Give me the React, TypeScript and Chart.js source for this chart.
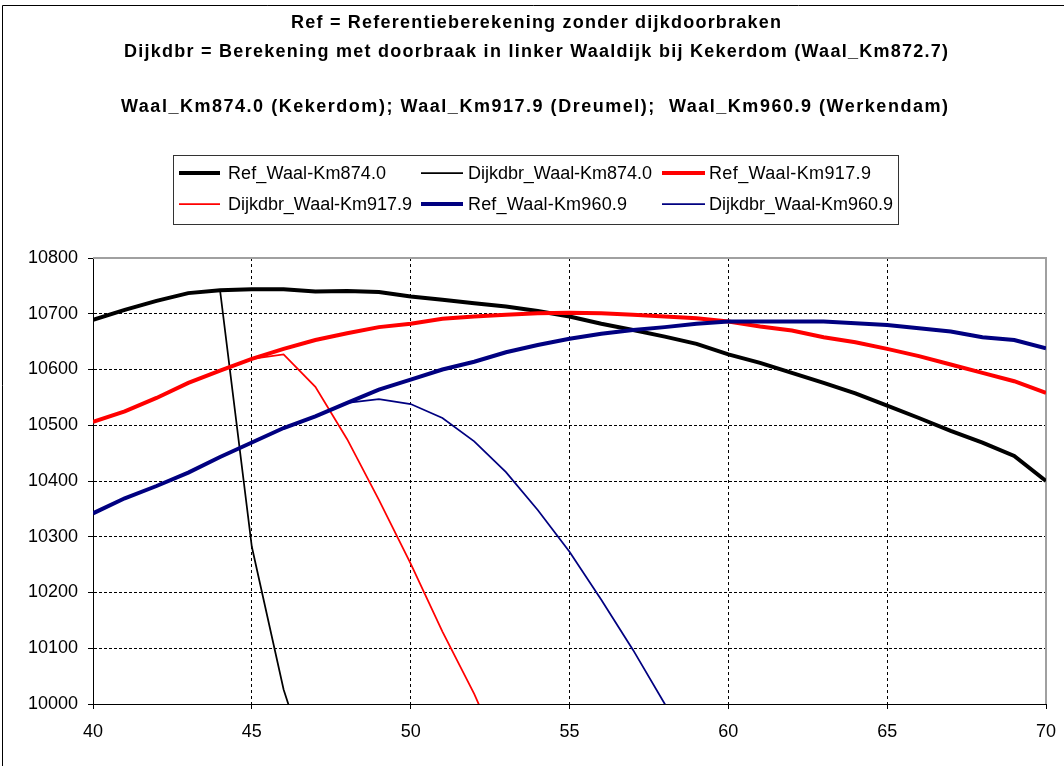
import React, { useEffect, useRef } from 'react';
import { Chart, registerables } from 'chart.js';

Chart.register(...registerables);

// ---- Data ----
const xValues = [40, 41, 42, 43, 44, 45, 46, 47, 48, 49, 50, 51, 52, 53, 54, 55, 56, 57, 58, 59, 60, 61, 62, 63, 64, 65, 66, 67, 68, 69, 70];

const refKm874 = [10689, 10707, 10723, 10737, 10742, 10744, 10744, 10740, 10741, 10739, 10731, 10725, 10719, 10713, 10705, 10695, 10682, 10671, 10659, 10646, 10627, 10612, 10594, 10576, 10557, 10535, 10513, 10490, 10469, 10445, 10400];
const dijkKm874 = [10689, 10707, 10723, 10737, 10742, 10282, 10026, 9850, null, null, null, null, null, null, null, null, null, null, null, null, null, null, null, null, null, null, null, null, null, null, null];
const refKm917 = [10506, 10525, 10549, 10576, 10598, 10619, 10637, 10653, 10665, 10676, 10682, 10691, 10695, 10698, 10701, 10702, 10701, 10698, 10695, 10692, 10686, 10677, 10670, 10658, 10649, 10637, 10624, 10609, 10594, 10579, 10558];
const dijkKm917 = [10506, 10525, 10549, 10576, 10598, 10619, 10627, 10569, 10475, 10366, 10252, 10130, 10018, 9890, null, null, null, null, null, null, null, null, null, null, null, null, null, null, null, null, null];
const refKm960 = [10342, 10369, 10391, 10415, 10443, 10469, 10495, 10516, 10540, 10564, 10582, 10600, 10614, 10631, 10644, 10655, 10664, 10671, 10676, 10682, 10686, 10686, 10686, 10686, 10683, 10680, 10674, 10668, 10658, 10653, 10638];
const dijkKm960 = [10342, 10369, 10391, 10415, 10443, 10469, 10495, 10516, 10540, 10547, 10538, 10513, 10471, 10416, 10348, 10273, 10187, 10097, 10000, 9890, null, null, null, null, null, null, null, null, null, null, null];

const seriesLabels = [
  'Ref_Waal-Km874.0',
  'Dijkdbr_Waal-Km874.0',
  'Ref_Waal-Km917.9',
  'Dijkdbr_Waal-Km917.9',
  'Ref_Waal-Km960.9',
  'Dijkdbr_Waal-Km960.9',
];
const seriesValues = [refKm874, dijkKm874, refKm917, dijkKm917, refKm960, dijkKm960];
const seriesColors = ['#000000', '#000000', '#ff0000', '#ff0000', '#000080', '#000080'];
const seriesWidths = [4, 1.75, 4, 1.75, 4, 1.75];

const titleLines = [
  'Ref = Referentieberekening zonder dijkdoorbraken',
  'Dijkdbr = Berekening met doorbraak in linker Waaldijk bij Kekerdom (Waal_Km872.7)',
  'Waal_Km874.0 (Kekerdom); Waal_Km917.9 (Dreumel);  Waal_Km960.9 (Werkendam)',
];

const xMin = 40;
const xMax = 70;
const xStep = 5;
const yMin = 10000;
const yMax = 10800;
const yStep = 100;

const FONT = "'Liberation Sans', Arial, sans-serif";

function fitText(ctx: CanvasRenderingContext2D, text: string, x: number, y: number, target: number) {
  const anyCtx = ctx as any;
  if ('letterSpacing' in anyCtx) anyCtx.letterSpacing = '0px';
  const w = ctx.measureText(text).width;
  if ('letterSpacing' in anyCtx && text.length > 1) {
    const ls = (target - w) / (text.length - 1);
    anyCtx.letterSpacing = ls.toFixed(3) + 'px';
    ctx.fillText(text, x, y);
    anyCtx.letterSpacing = '0px';
  } else {
    ctx.save();
    ctx.translate(x, y);
    ctx.scale(target / w, 1);
    ctx.fillText(text, 0, 0);
    ctx.restore();
  }
}

const framePlugin = {
  id: 'frame',
  beforeDatasetsDraw(chart: any) {
    const { ctx, chartArea } = chart;
    ctx.save();
    ctx.strokeStyle = '#a0a0a0';
    ctx.lineWidth = 2;
    ctx.beginPath();
    ctx.moveTo(chartArea.left, chartArea.top);
    ctx.lineTo(chartArea.right, chartArea.top);
    ctx.lineTo(chartArea.right, chartArea.bottom);
    ctx.stroke();
    ctx.restore();
  },
  afterDraw(chart: any) {
    const { ctx } = chart;
    ctx.save();
    // outer chart border
    ctx.strokeStyle = '#000';
    ctx.lineWidth = 1;
    ctx.beginPath();
    ctx.moveTo(2.5, 766);
    ctx.lineTo(2.5, 5.5);
    ctx.lineTo(1064, 5.5);
    ctx.stroke();

    // titles
    ctx.fillStyle = '#000';
    ctx.textBaseline = 'middle';
    ctx.textAlign = 'left';
    ctx.font = `bold 18px ${FONT}`;
    const tPos = [
      { x: 291, y: 23, w: 490 },
      { x: 124, y: 52, w: 824 },
      { x: 121, y: 107, w: 827 },
    ];
    titleLines.forEach((t, i) => fitText(ctx, t, tPos[i].x, tPos[i].y, tPos[i].w));

    // legend box
    ctx.strokeStyle = '#333';
    ctx.lineWidth = 1;
    ctx.strokeRect(173.5, 155.5, 725, 69);

    const lineStart = [179, 421, 662];
    const lineEnd = [220, 463, 705];
    const textX = [228, 468, 709];
    const rowY = [173, 204];
    const textW = [158, 184, 162, 184, 159, 184];
    ctx.font = `18px ${FONT}`;
    seriesLabels.forEach((label, i) => {
      const col = i % 3;
      const row = Math.floor(i / 3);
      const y = rowY[row];
      ctx.strokeStyle = seriesColors[i];
      ctx.lineWidth = seriesWidths[i];
      ctx.beginPath();
      ctx.moveTo(lineStart[col], y);
      ctx.lineTo(lineEnd[col], y);
      ctx.stroke();
      ctx.fillStyle = '#000';
      fitText(ctx, label, textX[col], y + 1, textW[i]);
    });
    ctx.restore();
  },
};

export default function App() {
  const canvasRef = useRef<HTMLCanvasElement | null>(null);

  useEffect(() => {
    if (!canvasRef.current) return;
    const datasets = seriesLabels.map((label, i) => ({
      label,
      data: xValues.map((x, j) => ({ x, y: seriesValues[i][j] })),
      borderColor: seriesColors[i],
      backgroundColor: seriesColors[i],
      borderWidth: seriesWidths[i],
      pointRadius: 0,
      tension: 0,
      fill: false,
      spanGaps: false,
      order: seriesLabels.length - i,
    }));

    const chart = new Chart(canvasRef.current, {
      type: 'line',
      data: { datasets },
      options: {
        animation: false,
        responsive: false,
        events: [],
        layout: { padding: { top: 258, right: 18, left: 0, bottom: 0 } },
        plugins: {
          legend: { display: false },
          title: { display: false },
          tooltip: { enabled: false },
        },
        scales: {
          x: {
            type: 'linear',
            min: xMin,
            max: xMax,
            ticks: {
              stepSize: xStep,
              color: '#000',
              padding: 12,
              maxRotation: 0,
              font: { family: FONT, size: 18 },
              callback: (v: any) => String(v),
            },
            grid: {
              color: '#000',
              lineWidth: 1,
              tickLength: 5,
              tickColor: '#000',
              tickBorderDash: [],
            },
            border: { color: '#000', width: 1, dash: [3, 3] },
            afterFit: (s: any) => {
              s.height = 62;
              s.paddingLeft = 0;
              s.paddingRight = 0;
            },
          },
          y: {
            type: 'linear',
            min: yMin,
            max: yMax,
            ticks: {
              stepSize: yStep,
              color: '#000',
              padding: 10,
              font: { family: FONT, size: 18 },
              callback: (v: any) => String(v),
            },
            grid: {
              color: '#000',
              lineWidth: 1,
              tickLength: 5,
              tickColor: '#000',
              tickBorderDash: [],
            },
            border: { color: '#000', width: 1, dash: [3, 2] },
            afterFit: (s: any) => {
              s.width = 93;
              s.paddingTop = 0;
              s.paddingBottom = 0;
            },
          },
        },
      } as any,
      plugins: [framePlugin],
    });
    return () => chart.destroy();
  }, []);

  return (
    <div style={{ position: 'fixed', left: 0, top: 0, width: 1064, height: 766, background: '#fff' }}>
      <canvas ref={canvasRef} width={1064} height={766} style={{ display: 'block' }} />
    </div>
  );
}
